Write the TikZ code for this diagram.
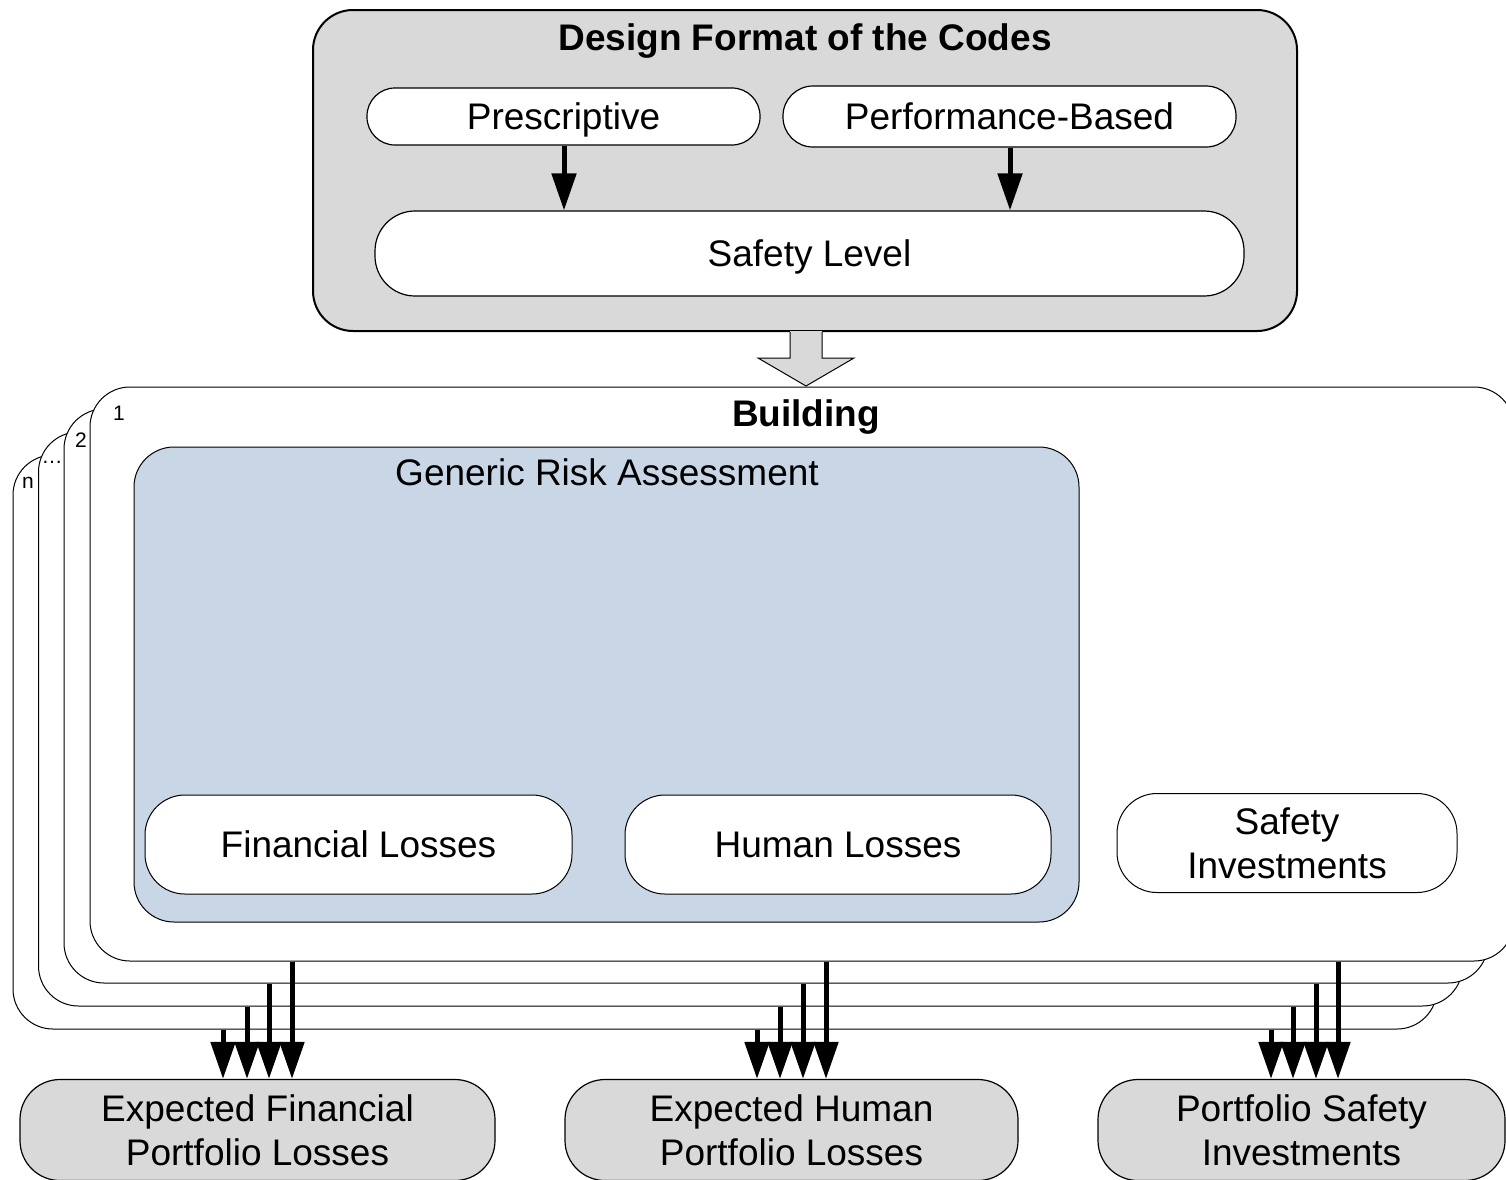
\documentclass[tikz,border=0pt]{standalone}
\usepackage{fontspec}
\setmainfont{Liberation Sans}
\usetikzlibrary{arrows.meta}
\definecolor{boxgray}{RGB}{217,217,217}
\definecolor{riskblue}{RGB}{200,214,229}
\newcommand\bigtxt{\fontsize{37}{44}\selectfont}
\newcommand\smalltxt{\fontsize{21}{25}\selectfont}
\begin{document}
\begin{tikzpicture}[x=1pt,y=-1pt,
  rbox/.style={draw=black, line width=1.2pt, inner sep=0pt, align=center, font=\bigtxt},
  oneline/.style={text height=30pt, text depth=4pt},
  page/.style={draw=black, line width=1pt, fill=white, rounded corners=40pt, inner sep=0pt,
               minimum width=1424pt, minimum height=574pt},
  dn/.style={line width=5pt, -{Triangle[width=24pt,length=37pt]}},
]
\useasboundingbox (0,0) rectangle (1506,1179);

% ---- code design block ----
\node[rbox, line width=2pt, fill=boxgray, rounded corners=40pt,
      minimum width=984pt, minimum height=321pt] (design) at (805,170.5) {};
\node[font=\bigtxt\bfseries, oneline, inner sep=0pt] (designT) at (805,37) {Design Format of the Codes};
\node[rbox, oneline, fill=white, rounded corners=28pt, minimum width=393pt, minimum height=57pt]
  (presc) at (563.5,116.5) {Prescriptive};
\node[rbox, oneline, fill=white, rounded corners=30pt, minimum width=453pt, minimum height=61pt]
  (perf) at (1009.5,116.5) {Performance-Based};
\node[rbox, oneline, fill=white, rounded corners=40pt, minimum width=869pt, minimum height=85pt]
  (safety) at (809.5,253.5) {Safety Level};
\coordinate (xa) at (564,0);
\coordinate (xb) at (1010,0);
\draw[dn] (presc.south -| xa) -- (safety.north -| xa);
\draw[dn] (perf.south -| xb) -- (safety.north -| xb);

% ---- stacked building pages ----
\node[page] (pn) at (725,742) {};
\node[page] (p3) at (750.5,719) {};
\node[page] (p2) at (776,696) {};
\node[page] (p1) at (802,674) {};

% hollow arrow from the code block down to the buildings
\fill[boxgray] (790,331) -- (790,358) -- (758,358) -- (806,386) -- (854,358) -- (822,358) -- (822,331) -- cycle;
\draw[line width=1pt, line join=miter] (790,332) -- (790,358) -- (758,358) -- (806,386) -- (854,358) -- (822,358) -- (822,332);

\node[font=\smalltxt] (l1) at (119,413) {1};
\node[font=\smalltxt] (l2) at (81,440) {2};
\node[font=\smalltxt] (l3) at (52,462) {\dots};
\node[font=\smalltxt] (ln) at (28,483) {n};
\node[font=\bigtxt\bfseries, oneline, inner sep=0pt] (bldT) at (806,413) {Building};

% ---- generic risk assessment ----
\node[rbox, line width=1pt, fill=riskblue, rounded corners=40pt, minimum width=945pt, minimum height=475pt]
  (risk) at (606.5,684.5) {};
\node[font=\bigtxt, oneline, inner sep=0pt] (riskT) at (607,472) {Generic Risk Assessment};
\node[rbox, oneline, line width=1pt, fill=white, rounded corners=40pt, minimum width=427pt, minimum height=99pt]
  (fin) at (358.5,844.5) {Financial Losses};
\node[rbox, oneline, line width=1pt, fill=white, rounded corners=40pt, minimum width=426pt, minimum height=99pt]
  (hum) at (838,844.5) {Human Losses};
\node[rbox, line width=1pt, fill=white, rounded corners=40pt, minimum width=340pt, minimum height=99pt]
  (inv) at (1287,843) {Safety\\Investments};

% ---- portfolio outputs ----
\node[rbox, fill=boxgray, rounded corners=40pt, minimum width=475pt, minimum height=101pt]
  (ef) at (257.5,1130) {Expected Financial\\Portfolio Losses};
\node[rbox, fill=boxgray, rounded corners=40pt, minimum width=453pt, minimum height=101pt]
  (eh) at (791.5,1130) {Expected Human\\Portfolio Losses};
\node[rbox, fill=boxgray, rounded corners=40pt, minimum width=407pt, minimum height=101pt]
  (ps) at (1301.5,1130) {Portfolio Safety\\Investments};

% aggregation arrows, one per building page
\foreach \t/\xn/\xc/\xb/\xa in {ef/223/247/269/292, eh/757/780/803/826, ps/1271/1293/1316/1338}{
  \coordinate (cn) at (\xn,0);
  \coordinate (cc) at (\xc,0);
  \coordinate (cb) at (\xb,0);
  \coordinate (ca) at (\xa,0);
  \draw[dn] (pn.south -| cn) -- (\t.north -| cn);
  \draw[dn] (p3.south -| cc) -- (\t.north -| cc);
  \draw[dn] (p2.south -| cb) -- (\t.north -| cb);
  \draw[dn] (p1.south -| ca) -- (\t.north -| ca);
}
\end{tikzpicture}
\end{document}
